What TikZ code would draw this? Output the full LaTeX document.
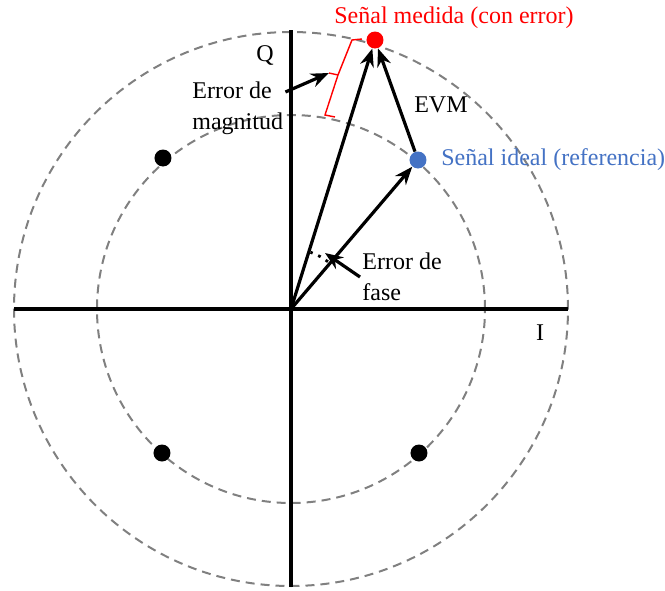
\documentclass[tikz,border=0pt]{standalone}
\usepackage{fontspec}
\setmainfont{Liberation Serif}
\usetikzlibrary{positioning, arrows.meta, calc}
\definecolor{idealblue}{RGB}{68,114,196}

\begin{document}
\begin{tikzpicture}[
		x=0.5pt, y=0.5pt,
		>={Stealth[length=9pt, width=7pt]},
		font=\fontsize{12}{15.5}\selectfont,
		% Dashed rings of the constellation
		ringline/.style={draw=gray, line width=1pt, dash pattern=on 4.5pt off 3pt},
		% I/Q axes
		axisline/.style={line width=1.6pt},
		% Vectors and pointers
		arrowvec/.style={->, line width=1.6pt},
		% Constellation points
		sigdot/.style={circle, fill=#1, inner sep=0pt, minimum size=8.5pt},
		labtext/.style={inner sep=1pt, align=left}
	]
	\useasboundingbox (-291,-281) rectangle (374,309);

	% ==========================================
	% 1. AXES AND RINGS
	% ==========================================
	\coordinate (O) at (0,0);
	\draw[ringline] (O) circle[radius=277];
	\draw[ringline] (O) circle[radius=194];
	\draw[axisline] (-277,0) -- (277,0);
	\draw[axisline] (0,-278) -- (0,279);

	% ==========================================
	% 2. CONSTELLATION POINTS
	% ==========================================
	\node[sigdot=red] (measured) at (84,269) {};
	\node[sigdot=idealblue] (ideal) at (127,149) {};
	\node[sigdot=black] (pta) at (-128,151) {};
	\node[sigdot=black] (ptb) at (-129,-144) {};
	\node[sigdot=black] (ptc) at (128,-144) {};

	% ==========================================
	% 3. VECTORS
	% ==========================================
	\draw[arrowvec] (O) -- (measured);
	\draw[arrowvec] (O) -- (ideal);
	\draw[arrowvec] (ideal) -- (measured);

	% Phase error mark
	\draw[line width=1.4pt, dash pattern=on 1.4pt off 3pt] (O) ++(52:60) arc[start angle=52, end angle=71, radius=60];

	% Magnitude error bracket
	\draw[red, line width=0.7pt] (71,270) -- (61,269) -- (47,234) -- (34,194) -- (44,192);
	\draw[red, line width=0.7pt] (47,234) -- (38,236) coordinate (brk);

	% ==========================================
	% 4. LABELS
	% ==========================================
	\node[text=red] (measlab) at (163,291) {Señal medida (con error)};
	\node[text=idealblue, right=6pt of ideal, inner sep=1pt] (ideallab) {Señal ideal (referencia)};
	\node (qlab) at (-26,254) {Q};
	\node (ilab) at (249,-24) {I};
	\node (evmlab) at (150,204) {EVM};
	\node[labtext, anchor=west] (magerr) at (-101,201) {Error de\\magnitud};
	\node[labtext, anchor=west] (phaseerr) at (69,32) {Error de\\fase};
	\coordinate (phasemark) at (34,56);

	\draw[arrowvec] ([yshift=8pt]magerr.east) -- (brk);
	\draw[arrowvec] (phaseerr.west) -- (phasemark);

\end{tikzpicture}
\end{document}
